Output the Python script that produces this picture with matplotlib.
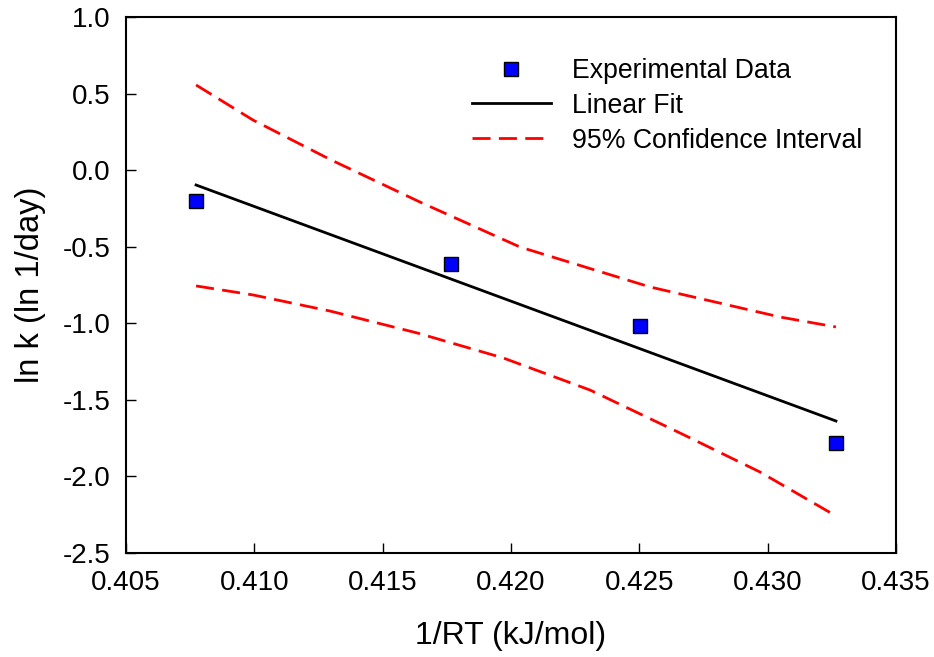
import matplotlib
matplotlib.use('Agg')
import matplotlib.pyplot as plt

plt.rcParams['font.family'] = ['Liberation Sans', 'DejaVu Sans']

# measured points
x_data = [0.40773, 0.41766, 0.42503, 0.43266]
y_data = [-0.20, -0.61, -1.02, -1.78]

# linear fit end points
x_fit = [0.40773, 0.43266]
y_fit = [-0.097, -1.638]

# 95% confidence band
x_ci_upper = [0.40773, 0.40995, 0.41295, 0.41645, 0.42035, 0.42542, 0.43048, 0.43266]
y_ci_upper = [0.556, 0.327, 0.070, -0.208, -0.502, -0.763, -0.959, -1.024]
x_ci_lower = [0.40773, 0.40995, 0.41295, 0.41634, 0.41969, 0.42308, 0.42658, 0.42970, 0.43266]
y_ci_lower = [-0.756, -0.815, -0.920, -1.063, -1.226, -1.436, -1.716, -1.971, -2.258]

x_ticks = [0.405, 0.410, 0.415, 0.420, 0.425, 0.430, 0.435]
y_ticks = [1.0, 0.5, 0.0, -0.5, -1.0, -1.5, -2.0, -2.5]

fig = plt.figure(figsize=(9.34, 6.57), dpi=100)
ax = fig.add_axes([126 / 934, 1 - 553 / 657, 770 / 934, 536 / 657])

ax.plot(x_fit, y_fit, color='black', lw=2.0, label='Linear Fit', zorder=2)
ax.plot(x_ci_upper, y_ci_upper, color='red', lw=2.0, dashes=(6.5, 3),
        label='95% Confidence Interval', zorder=2)
ax.plot(x_ci_lower, y_ci_lower, color='red', lw=2.0, dashes=(6.5, 3), zorder=2)
ax.plot(x_data, y_data, linestyle='none', marker='s', markersize=10.5,
        markerfacecolor='#0000ff', markeredgecolor='black', markeredgewidth=1.0,
        label='Experimental Data', zorder=3)

ax.set_xlim(0.405, 0.435)
ax.set_ylim(-2.5, 1.0)
ax.set_xticks(x_ticks)
ax.set_yticks(y_ticks)
ax.set_xticklabels(['%.3f' % v for v in x_ticks])
ax.set_yticklabels(['%.1f' % v for v in y_ticks])
ax.tick_params(direction='in', length=7, width=1.0, labelsize=20)
ax.tick_params(axis='x', pad=12)
ax.tick_params(axis='y', pad=11)
for s in ax.spines.values():
    s.set_linewidth(1.5)

ax.set_xlabel('1/RT (kJ/mol)', fontsize=23, labelpad=18)
ax.set_ylabel('ln k (ln 1/day)', fontsize=23.5, labelpad=12)

h, l = ax.get_legend_handles_labels()
order = [2, 0, 1]
ax.legend([h[i] for i in order], [l[i] for i in order], frameon=False,
          fontsize=19.2, loc='upper left', bbox_to_anchor=(472 / 934, 1 - 58 / 657),
          bbox_transform=fig.transFigure, handlelength=2.95, handletextpad=0.8,
          labelspacing=0.33, borderaxespad=0, borderpad=0)

fig.savefig('out.png', dpi=100)
